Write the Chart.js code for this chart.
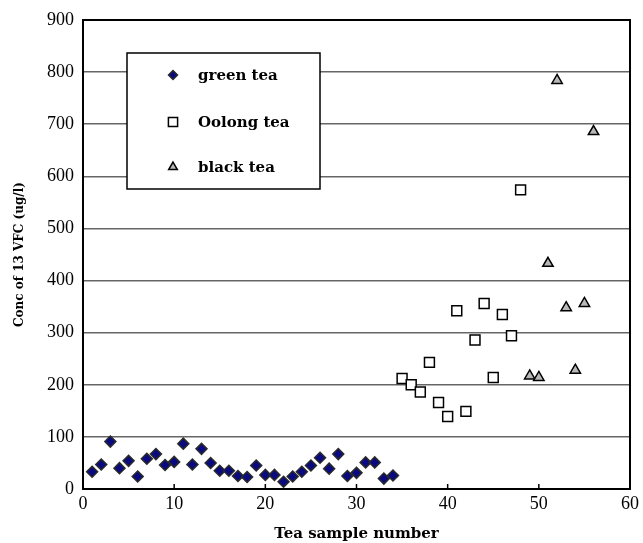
<!DOCTYPE html>
<html>
<head>
<meta charset="utf-8">
<title>Conc of 13 VFC</title>
<script src="https://cdn.jsdelivr.net/npm/chart.js@4.4.0/dist/chart.umd.min.js"></script>
<style>
  html, body { margin: 0; padding: 0; background: #fff; }
  #wrap { width: 643px; height: 543px; }
</style>
</head>
<body>
<div id="wrap"><canvas id="teaChart" width="643" height="543"></canvas></div>
<script>
// sample numbers and concentrations (ug/l)
var greenSamples = [1, 2, 3, 4, 5, 6, 7, 8, 9, 10, 11, 12, 13, 14, 15, 16, 17,
    18, 19, 20, 21, 22, 23, 24, 25, 26, 27, 28, 29, 30, 31, 32, 33, 34];
var greenConc = [33, 47, 91, 40, 54, 24, 58, 67, 46, 52, 87, 47, 77, 50, 35, 35, 25,
    23, 45, 27, 27, 14, 24, 33, 45, 60, 39, 67, 25, 31, 51, 51, 20, 26];

var oolongSamples = [35, 36, 37, 38, 39, 40, 41, 42, 43, 44, 45, 46, 47, 48];
var oolongConc = [212, 200, 186, 243, 166, 139, 342, 149, 286, 356, 214, 335, 294, 574];

var blackSamples = [49, 50, 51, 52, 53, 54, 55, 56];
var blackConc = [217, 214, 433, 784, 348, 228, 356, 686];

var xTicks = [0, 10, 20, 30, 40, 50, 60];
var yTicks = [0, 100, 200, 300, 400, 500, 600, 700, 800, 900];

function toPoints(xs, ys) {
    var pts = [];
    xs.forEach(function (x, i) {
        pts.push({ x: x, y: ys[i] });
    });
    return pts;
}

var serif = '"Liberation Serif", "DejaVu Serif", serif';
var boldSerif = '"DejaVu Serif", "Liberation Serif", serif';

// black frame around the plot area plus inward x tick marks
var framePlugin = {
    id: 'frame',
    beforeDatasetsDraw: function (chart) {
        var ctx = chart.ctx;
        var a = chart.chartArea;
        var xs = chart.scales.x;
        ctx.save();
        ctx.strokeStyle = '#000';
        ctx.lineWidth = 2;
        ctx.strokeRect(a.left, a.top, a.right - a.left, a.bottom - a.top);
        ctx.lineWidth = 1.5;
        xTicks.forEach(function (t) {
            var px = xs.getPixelForValue(t);
            ctx.beginPath();
            ctx.moveTo(px, a.bottom);
            ctx.lineTo(px, a.bottom - 5);
            ctx.stroke();
        });
        ctx.restore();
    }
};

// boxed legend sitting inside the plot
var boxLegend = {
    id: 'boxLegend',
    afterDraw: function (chart) {
        var ctx = chart.ctx;
        ctx.save();
        ctx.fillStyle = '#fff';
        ctx.fillRect(127, 53, 193, 136);
        ctx.strokeStyle = '#000';
        ctx.lineWidth = 1.5;
        ctx.strokeRect(127, 53, 193, 136);
        var rows = [75, 122, 167];
        chart.data.datasets.forEach(function (ds, i) {
            ctx.fillStyle = ds.backgroundColor;
            ctx.strokeStyle = ds.borderColor;
            ctx.lineWidth = ds.pointBorderWidth;
            Chart.helpers.drawPoint(ctx, {
                pointStyle: ds.pointStyle,
                radius: ds.legendRadius,
                borderWidth: ds.pointBorderWidth
            }, 173, rows[i]);
            ctx.fillStyle = '#000';
            ctx.font = 'bold 15px ' + boldSerif;
            ctx.textBaseline = 'middle';
            ctx.textAlign = 'left';
            ctx.fillText(ds.label, 198, rows[i] + 1);
        });
        ctx.restore();
    }
};

new Chart(document.getElementById('teaChart'), {
    type: 'scatter',
    data: {
        datasets: [{
            label: 'green tea',
            data: toPoints(greenSamples, greenConc),
            pointStyle: 'rectRot',
            pointRadius: 5.5,
            legendRadius: 4.5,
            backgroundColor: '#0a0a80',
            borderColor: '#2a2a2a',
            pointBorderWidth: 1.5
        }, {
            label: 'Oolong tea',
            data: toPoints(oolongSamples, oolongConc),
            pointStyle: 'rect',
            pointRadius: 7,
            legendRadius: 6.5,
            backgroundColor: '#fff',
            borderColor: '#000',
            pointBorderWidth: 1.5
        }, {
            label: 'black tea',
            data: toPoints(blackSamples, blackConc),
            pointStyle: 'triangle',
            pointRadius: 6,
            legendRadius: 5,
            backgroundColor: '#b8b8b8',
            borderColor: '#000',
            pointBorderWidth: 1.5
        }]
    },
    options: {
        responsive: false,
        animation: false,
        layout: { padding: { left: 0, right: 13, top: 20, bottom: 0 } },
        plugins: {
            legend: { display: false },
            tooltip: { enabled: false }
        },
        scales: {
            x: {
                type: 'linear',
                min: 0,
                max: 60,
                afterBuildTicks: function (scale) {
                    scale.ticks = xTicks.map(function (v) { return { value: v }; });
                },
                afterFit: function (scale) { scale.height = 54; },
                grid: { display: false, drawTicks: false },
                border: { display: false },
                ticks: {
                    padding: 4,
                    color: '#000',
                    font: { family: serif, size: 18 }
                },
                title: {
                    display: true,
                    text: 'Tea sample number',
                    color: '#000',
                    font: { family: boldSerif, size: 15, weight: 'bold' },
                    padding: { top: 3, bottom: 0 }
                }
            },
            y: {
                min: 0,
                max: 900,
                afterBuildTicks: function (scale) {
                    scale.ticks = yTicks.map(function (v) { return { value: v }; });
                },
                afterFit: function (scale) { scale.width = 83; },
                grid: {
                    color: '#666',
                    lineWidth: 1.5,
                    drawTicks: false
                },
                border: { display: false },
                ticks: {
                    padding: 9,
                    color: '#000',
                    font: { family: serif, size: 18 }
                },
                title: {
                    display: true,
                    text: 'Conc of 13 VFC (ug/l)',
                    color: '#000',
                    font: { family: boldSerif, size: 12, weight: 'bold' },
                    padding: { top: 13, bottom: 0 }
                }
            }
        }
    },
    plugins: [framePlugin, boxLegend]
});
</script>
</body>
</html>
